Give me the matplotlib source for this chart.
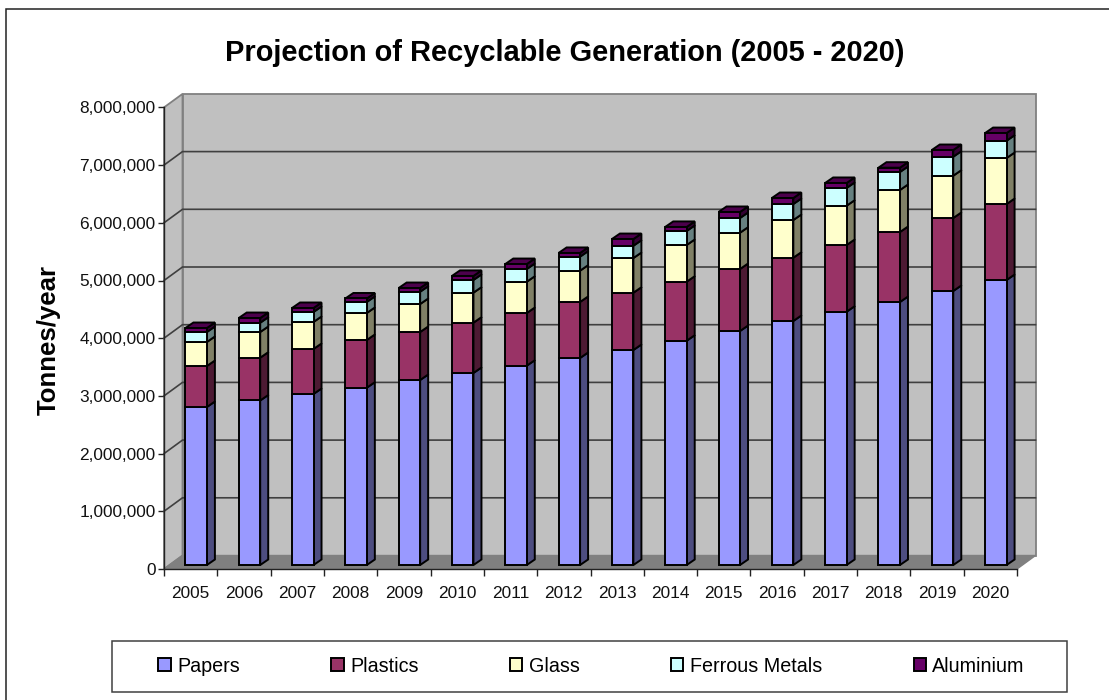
import numpy as np
import matplotlib.pyplot as plt
from matplotlib.patches import Polygon, Rectangle
from matplotlib.ticker import FuncFormatter

years = [str(y) for y in range(2005, 2021)]
papers = [2738000, 2851000, 2964000, 3073000, 3206000, 3328000, 3454000, 3588000,
          3726000, 3887000, 4055000, 4229000, 4390000, 4558000, 4749000, 4939000]
plastics = [711000, 742000, 780000, 827000, 832000, 872000, 913000, 971000,
            993000, 1023000, 1075000, 1097000, 1156000, 1213000, 1265000, 1317000]
glass = [416000, 445000, 468000, 468000, 485000, 520000, 542000, 542000,
         601000, 636000, 629000, 653000, 681000, 728000, 733000, 797000]
ferrous = [173000, 161000, 173000, 191000, 213000, 220000, 220000, 243000,
           213000, 243000, 255000, 277000, 307000, 312000, 329000, 300000]
aluminium = [69000, 81000, 69000, 60000, 64000, 70000, 87000, 64000,
             116000, 70000, 104000, 104000, 87000, 75000, 116000, 133000]

series = [papers, plastics, glass, ferrous, aluminium]
names = ['Papers', 'Plastics', 'Glass', 'Ferrous Metals', 'Aluminium']
colors = ['#9999FF', '#993366', '#FFFFCC', '#CCFFFF', '#660066']
sides = ['#4D4D80', '#4D1A33', '#808066', '#668080', '#330033']
top_color = '#4C004C'

W, H = 1109, 700
plt.rcParams['font.family'] = ['Liberation Sans', 'DejaVu Sans']

fig = plt.figure(figsize=(W / 100, H / 100), dpi=100)
ax = fig.add_axes([164 / W, (H - 569) / H, 853 / W, 461.6 / H])
ax.set_xlim(0, 16)
ax.set_ylim(0, 8000000)
ax.patch.set_visible(False)

# pixel -> data
ux = 16 / 853
uy = 8000000 / 461.6
depth_x = 18.5 * ux
depth_y = 13.5 * uy

# outer border of the chart
fig.add_artist(Rectangle((5.5 / W, -0.01), (W - 5) / W, (H - 9) / H + 0.01,
                         transform=fig.transFigure, fc='white', ec='#222222', lw=1.1, zorder=-10))

# walls and floor
ax.add_patch(Polygon([(0, 0), (depth_x, depth_y), (depth_x, 8000000 + depth_y), (0, 8000000)],
                     fc='#C0C0C0', ec='#808080', lw=1.3, clip_on=False, zorder=1))
ax.add_patch(Rectangle((depth_x, depth_y), 16, 8000000, fc='#C0C0C0', ec='#808080', lw=1.3,
                       clip_on=False, zorder=1))
ax.add_patch(Polygon([(0, 0), (16, 0), (16 + depth_x, depth_y), (depth_x, depth_y)],
                     fc='#808080', ec='#808080', lw=1, clip_on=False, zorder=2))

# gridlines
for v in range(1000000, 8000000, 1000000):
    ax.plot([0, depth_x, 16 + depth_x], [v, v + depth_y, v + depth_y], color='#404040', lw=1.2,
            clip_on=False, zorder=2, solid_joinstyle='miter')

# stacked bars
off_x = 5.5 * ux
off_y = 4 * uy
bw = 21.5 * ux
bd_x = 8 * ux
bd_y = 5.5 * uy
x = np.arange(16) + 0.5 + off_x
bottom = np.zeros(16)
for k, vals in enumerate(series):
    vals = np.array(vals, dtype=float)
    ax.bar(x, vals, width=bw, bottom=bottom + off_y, color=colors[k], edgecolor='black', lw=1.4,
           zorder=4, clip_on=False)
    for i in range(16):
        x1 = x[i] + bw / 2
        y0 = bottom[i] + off_y
        y1 = y0 + vals[i]
        ax.add_patch(Polygon([(x1, y0), (x1 + bd_x, y0 + bd_y), (x1 + bd_x, y1 + bd_y), (x1, y1)],
                             fc=sides[k], ec='black', lw=1.4, clip_on=False, zorder=3,
                             joinstyle='miter'))
    bottom = bottom + vals

for i in range(16):
    x0 = x[i] - bw / 2
    x1 = x[i] + bw / 2
    y1 = bottom[i] + off_y
    ax.add_patch(Polygon([(x0, y1), (x1, y1), (x1 + bd_x, y1 + bd_y), (x0 + bd_x, y1 + bd_y)],
                         fc=top_color, ec='black', lw=1.4, clip_on=False, zorder=3))

# axes
for s in ['top', 'right']:
    ax.spines[s].set_visible(False)
for s in ['left', 'bottom']:
    ax.spines[s].set_color('#222222')
    ax.spines[s].set_linewidth(1.0)
    ax.spines[s].set_zorder(5)

ax.set_yticks(np.arange(0, 8000001, 1000000))
ax.yaxis.set_major_formatter(FuncFormatter(lambda v, p: f'{int(v):,}'))
ax.set_xticks(np.arange(17))
ax.set_xticklabels([])
ax.set_xticks(np.arange(16) + 0.5, minor=True)
ax.set_xticklabels(years, minor=True)
ax.tick_params(axis='x', which='minor', length=0, labelsize=12.4, pad=12, labelcolor='#111111')
ax.tick_params(axis='x', which='major', length=5, width=1, color='#222222')
ax.tick_params(axis='y', length=4, width=1, color='#222222', labelsize=12.4, pad=2, labelcolor='#111111')

fig.text(49 / W, 1 - 340 / H, 'Tonnes/year', rotation=90, fontsize=18.5, fontweight='bold',
         ha='center', va='center', color='black')
fig.text(564.5 / W, 1 - 53 / H, 'Projection of Recyclable Generation (2005 - 2020)', fontsize=20.85,
         fontweight='bold', ha='center', va='center', color='black')

# legend
fig.add_artist(Rectangle((112 / W, 1 - 691.7 / H), 955 / W, 50.7 / H, transform=fig.transFigure,
                         fc='white', ec='#404040', lw=1.1))
handles = [Rectangle((0, 0), 1, 1, fc=c, ec='black', lw=1.4) for c in colors]
leg = fig.legend(handles, names, ncol=5, loc='center', bbox_to_anchor=(591.5 / W, 1 - 666 / H),
                 frameon=False, fontsize=14.2, columnspacing=4.65, handlelength=0.62,
                 handleheight=0.62, handletextpad=0.32, borderpad=0, borderaxespad=0)

plt.savefig('out.png', dpi=100)
